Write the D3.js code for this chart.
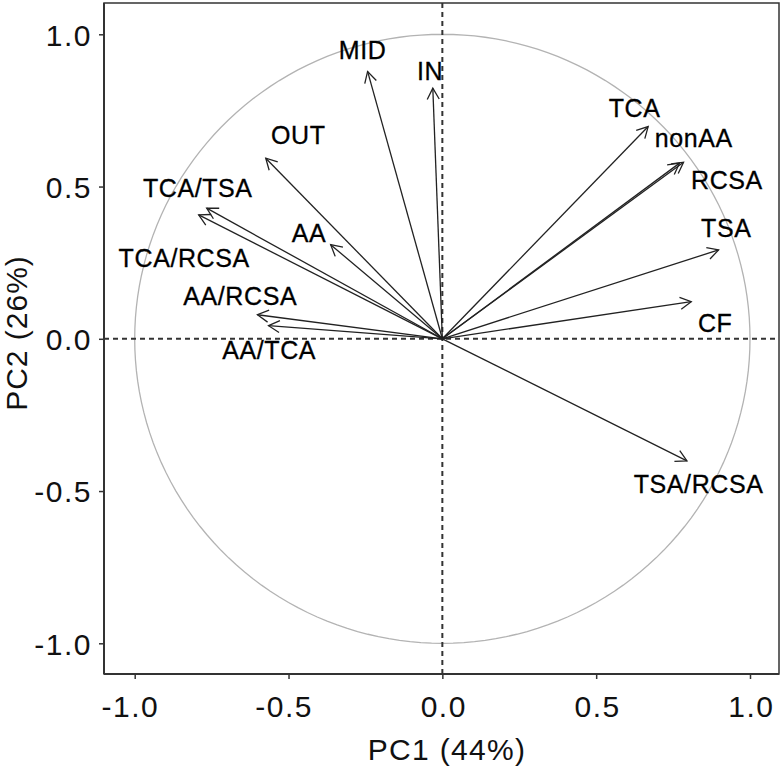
<!DOCTYPE html>
<html>
<head>
<meta charset="utf-8">
<script src="https://cdn.jsdelivr.net/npm/d3@7"></script>
<style>
  html, body { margin: 0; padding: 0; background: #fff; }
  svg { display: block; }
</style>
</head>
<body>
<div id="chart"></div>
<script>
// ---- data ----
const variables = ["MID", "IN", "OUT", "TCA/TSA", "TCA/RCSA", "AA", "AA/RCSA", "AA/TCA",
                   "TCA", "nonAA", "RCSA", "TSA", "CF", "TSA/RCSA"];
const pc1 = [-0.243, -0.031, -0.574, -0.766, -0.792, -0.363, -0.601, -0.565,
              0.669,  0.784,  0.771,  0.898,  0.809,  0.795];
const pc2 = [ 0.878,  0.823,  0.593,  0.429,  0.407,  0.309,  0.079,  0.043,
              0.697,  0.580,  0.577,  0.292,  0.122, -0.401];
// label anchor points (data units, text centre)
const labelPC1 = [-0.259, -0.040, -0.468, -0.795, -0.839, -0.433, -0.657, -0.563,
                   0.625,  0.817,  0.925,  0.923,  0.887,  0.833];
const labelPC2 = [ 0.949,  0.878,  0.670,  0.495,  0.265,  0.347,  0.141, -0.036,
                   0.758,  0.659,  0.522,  0.364,  0.052, -0.477];
const xTicks = [-1.0, -0.5, 0.0, 0.5, 1.0];
const yTicks = [-1.0, -0.5, 0.0, 0.5, 1.0];
const xTitle = "PC1 (44%)";
const yTitle = "PC2 (26%)";

// ---- layout ----
const W = 784, H = 771;
const plot = { left: 104, right: 779, top: 3, bottom: 674 };

const x = d3.scaleLinear().domain([-1.0, 1.0]).range([134.7, 750]);
const y = d3.scaleLinear().domain([-1.0, 1.0]).range([643.3, 34.3]);

const svg = d3.select("#chart").append("svg")
  .attr("width", W).attr("height", H)
  .style("font-family", "'Liberation Sans', Arial, sans-serif");

svg.append("rect").attr("width", W).attr("height", H).attr("fill", "#fff");

const defs = svg.append("defs");
defs.append("marker")
  .attr("id", "arrow")
  .attr("markerUnits", "userSpaceOnUse")
  .attr("viewBox", "-13 -8 15 16")
  .attr("refX", 0).attr("refY", 0)
  .attr("markerWidth", 15).attr("markerHeight", 16)
  .attr("orient", "auto")
  .append("path")
  .attr("d", "M-11,-6 L0,0 L-11,6")
  .attr("fill", "none")
  .attr("stroke", "#222")
  .attr("stroke-width", 1.3);

svg.append("clipPath").attr("id", "clip").append("rect")
  .attr("x", plot.left).attr("y", plot.top)
  .attr("width", plot.right - plot.left).attr("height", plot.bottom - plot.top);

const g = svg.append("g").attr("clip-path", "url(#clip)");

// unit circle
const circ = d3.range(0, 361, 2).map(a => [Math.cos(a * Math.PI / 180), Math.sin(a * Math.PI / 180)]);
g.append("path")
  .attr("d", d3.line().x(d => x(d[0])).y(d => y(d[1])).curve(d3.curveLinearClosed)(circ))
  .attr("fill", "none").attr("stroke", "#b3b3b3").attr("stroke-width", 1.3);

// reference dashed lines
g.append("line")
  .attr("x1", plot.left).attr("x2", plot.right).attr("y1", y(0)).attr("y2", y(0))
  .attr("stroke", "#333").attr("stroke-width", 2).attr("stroke-dasharray", "5,4");
g.append("line")
  .attr("x1", x(0)).attr("x2", x(0)).attr("y1", plot.top).attr("y2", plot.bottom)
  .attr("stroke", "#333").attr("stroke-width", 2).attr("stroke-dasharray", "5,4");

// arrows
const idx = d3.range(variables.length);
g.selectAll("line.arrow").data(idx).enter().append("line")
  .attr("class", "arrow")
  .attr("x1", x(0)).attr("y1", y(0))
  .attr("x2", i => x(pc1[i])).attr("y2", i => y(pc2[i]))
  .attr("stroke", "#222").attr("stroke-width", 1.3)
  .attr("marker-end", "url(#arrow)");

// labels
g.selectAll("text.lab").data(idx).enter().append("text")
  .attr("class", "lab")
  .attr("x", i => x(labelPC1[i])).attr("y", i => y(labelPC2[i]))
  .attr("dy", "0.36em")
  .attr("text-anchor", "middle")
  .attr("font-size", 25)
  .attr("letter-spacing", 0.6)
  .attr("fill", "#000")
  .attr("stroke", "#000").attr("stroke-width", 0.3)
  .text(i => variables[i]);

// frame
svg.append("rect")
  .attr("x", plot.left).attr("y", plot.top)
  .attr("width", plot.right - plot.left).attr("height", plot.bottom - plot.top)
  .attr("fill", "none").attr("stroke", "#333").attr("stroke-width", 1.5);
svg.append("line").attr("x1", plot.left).attr("x2", plot.left).attr("y1", plot.top).attr("y2", plot.bottom)
  .attr("stroke", "#333").attr("stroke-width", 2);
svg.append("line").attr("x1", plot.left).attr("x2", plot.right).attr("y1", plot.bottom).attr("y2", plot.bottom)
  .attr("stroke", "#333").attr("stroke-width", 2);

// axes
const fmt = d3.format(".1f");
const xAxis = svg.append("g").attr("transform", `translate(0,${plot.bottom})`)
  .call(d3.axisBottom(x).tickValues(xTicks).tickSize(5).tickSizeOuter(0).tickFormat(d => fmt(d).replace("−", "-")));
xAxis.select(".domain").remove();
xAxis.selectAll(".tick line").attr("stroke", "#333").attr("stroke-width", 1.5);
xAxis.selectAll(".tick text")
  .attr("font-family", "'Liberation Sans', Arial, sans-serif")
  .attr("font-size", 30).attr("fill", "#111")
  .attr("letter-spacing", 1.5)
  .attr("text-anchor", "end").attr("x", 24).attr("y", 43).attr("dy", 0);

const yAxis = svg.append("g").attr("transform", `translate(${plot.left},0)`)
  .call(d3.axisLeft(y).tickValues(yTicks).tickSize(5).tickSizeOuter(0).tickFormat(d => fmt(d).replace("−", "-")));
yAxis.select(".domain").remove();
yAxis.selectAll(".tick line").attr("stroke", "#333").attr("stroke-width", 1.5);
yAxis.selectAll(".tick text")
  .attr("font-family", "'Liberation Sans', Arial, sans-serif")
  .attr("font-size", 30).attr("fill", "#111")
  .attr("letter-spacing", 1.5)
  .attr("x", -12).attr("dy", "0.36em");

// titles
svg.append("text")
  .attr("x", 447).attr("y", 760)
  .attr("text-anchor", "middle").attr("font-size", 30).attr("fill", "#111")
  .attr("letter-spacing", 1.3)
  .text(xTitle);
svg.append("text")
  .attr("transform", "translate(27,333) rotate(-90)")
  .attr("text-anchor", "middle").attr("font-size", 30).attr("fill", "#111")
  .attr("letter-spacing", 1)
  .text(yTitle);
</script>
</body>
</html>
